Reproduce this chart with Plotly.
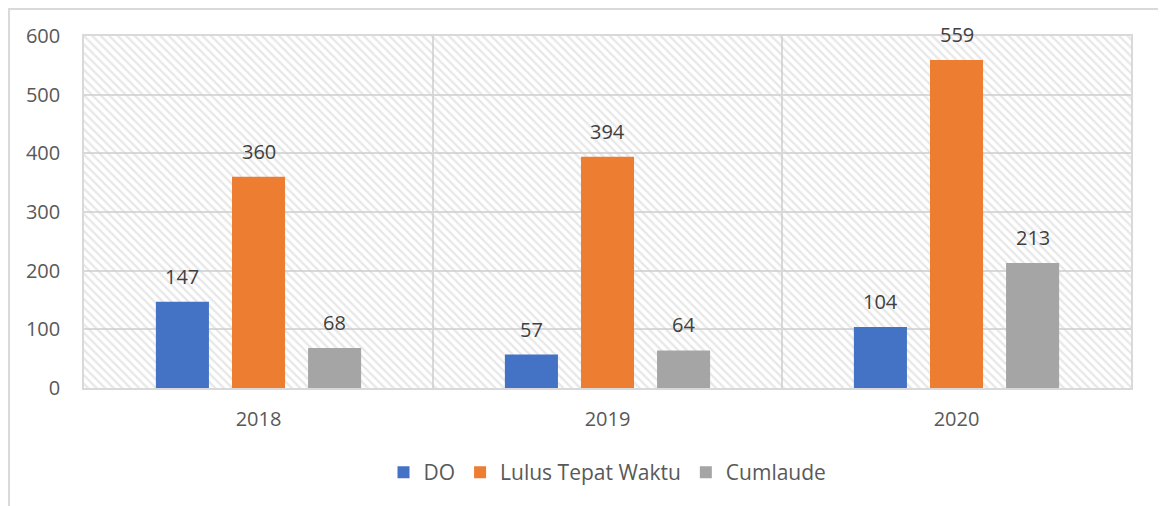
import plotly.graph_objects as go

years = ["2018", "2019", "2020"]
do_vals = [147, 57, 104]
lulus_vals = [360, 394, 559]
cumlaude_vals = [68, 64, 213]
y_ticks = [0, 100, 200, 300, 400, 500, 600]

font_family = "Open Sans, Liberation Sans, sans-serif"
label_color = "#595959"

fig = go.Figure()

# hatched plot background, one wide bar per category
fig.add_trace(go.Bar(
    x=years, y=[max(y_ticks)] * len(years),
    offset=-0.5, width=1,
    marker=dict(color="rgba(0,0,0,0)", line=dict(width=0),
                pattern=dict(shape="\\", fgcolor="#d0d0d0", bgcolor="rgba(0,0,0,0)",
                             size=6, solidity=0.38)),
    hoverinfo="skip", showlegend=False,
))

series = [
    ("DO", do_vals, "#4472C4", -0.294),
    ("Lulus Tepat Waktu", lulus_vals, "#ED7D31", -0.076),
    ("Cumlaude", cumlaude_vals, "#A5A5A5", 0.142),
]
bar_w = 0.152
annotations = []
for name, vals, color, off in series:
    fig.add_trace(go.Bar(
        x=years, y=vals, name=name,
        offset=off, width=bar_w,
        marker=dict(color=color, line=dict(width=0)),
        hovertemplate="%{x}: %{y}<extra>" + name + "</extra>",
    ))
    # data labels (x given as category index: year strings would be read as numbers)
    for i, v in enumerate(vals):
        annotations.append(dict(
            x=i + off + bar_w / 2, y=v, text=str(v), showarrow=False,
            yanchor="bottom", yshift=10,
            font=dict(size=20, color="#404040", family=font_family),
        ))

# the page body adds an 8px offset, so the figure is shrunk to fit the window
fig.update_layout(
    width=1158, height=498,
    barmode="overlay",
    paper_bgcolor="white", plot_bgcolor="white",
    margin=dict(l=76, r=35, t=28, b=118),
    font=dict(family=font_family, size=20, color=label_color),
    legend=dict(orientation="h", x=0.5, xanchor="center", y=-0.24, yanchor="middle",
                font=dict(size=21, color=label_color), itemwidth=30,
                traceorder="normal"),
    annotations=annotations,
    shapes=[dict(type="rect", xref="paper", yref="paper",
                 x0=-0.0716, x1=1.0277, y0=-0.36, y1=1.077,
                 line=dict(color="#d9d9d9", width=2), layer="below")],
)

fig.update_xaxes(
    type="category", range=[-0.5, len(years) - 0.5],
    tickson="boundaries", showgrid=True, gridcolor="#d9d9d9", gridwidth=1.5,
    showline=True, linecolor="#d9d9d9", linewidth=1.5, mirror=True,
    ticks="", ticklabelstandoff=12, tickfont=dict(size=20, color=label_color),
)
fig.update_yaxes(
    range=[0, 600], tickvals=y_ticks, showgrid=True, gridcolor="#d9d9d9", gridwidth=1.5,
    showline=True, linecolor="#d9d9d9", linewidth=1.5, mirror=True, zeroline=False,
    ticks="", ticklabelstandoff=18, tickfont=dict(size=20, color=label_color),
)

fig.write_html("out.html")
